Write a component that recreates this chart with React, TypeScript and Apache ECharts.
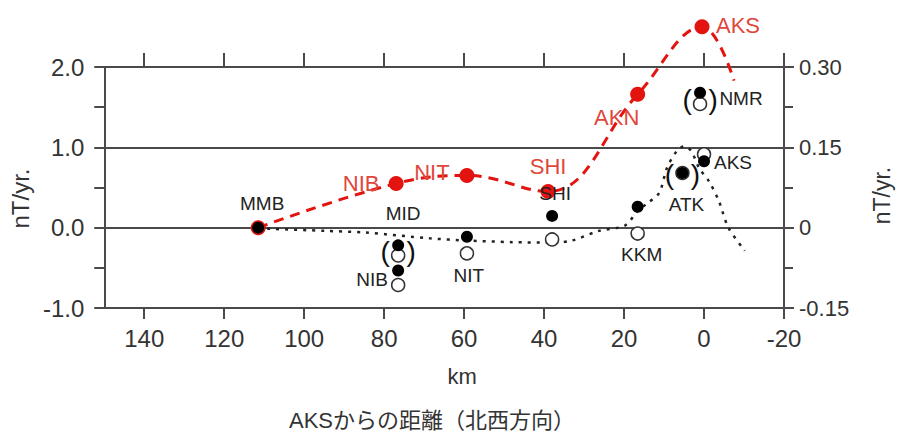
import React, { useEffect, useRef } from "react";
import * as echarts from "echarts";

// ---- data ----
// red series (left axis, nT/yr.)
const redStations = ["MMB", "NIB", "NIT", "SHI", "AKN", "AKS"];
const redKm = [111.5, 77, 59.3, 39, 16.6, 0.5];
const redVal = [0.0, 0.55, 0.65, 0.45, 1.66, 2.5];
const redTailKm = -7.5;
const redTailVal = 1.83;

// black filled / open circles (right axis)
const blkStations = ["MMB", "MID", "NIB", "NIT", "SHI", "KKM", "ATK", "AKS", "NMR"];
const blkKm = [111.5, 76.5, 76.5, 59.3, 38.0, 16.6, 5.4, 0.0, 1.0];
const filledVal = [0.0, -0.033, -0.08, -0.017, 0.022, 0.039, 0.102, 0.124, 0.252];
const openVal = [0.0, -0.052, -0.107, -0.048, -0.022, -0.011, 0.102, 0.137, 0.231];
const bracketed = ["MID", "ATK", "NMR"];

// dotted model curve (right axis)
const modelKm = [111.5, 108.5, 94.6, 84.9, 68.5, 59.3, 48, 38, 33, 26.3, 19.8, 16.6, 14.1, 11.2, 9.3, 6.8, 4.9, 3.2, 1.2, -1.2, -3.7, -6.1, -10.2];
const modelVal = [0, -0.002, -0.006, -0.009, -0.02, -0.024, -0.027, -0.028, -0.024, -0.006, 0.004, 0.031, 0.046, 0.065, 0.111, 0.143, 0.152, 0.143, 0.111, 0.087, 0.05, 0, -0.043];

// ticks
const xTicks = [140, 120, 100, 80, 60, 40, 20, 0, -20];

// ---- label layout (style, kept separately) ----
const redLabelOffset: Record<string, [number, number]> = {
  NIB: [-35, 0],
  NIT: [-35, -3],
  SHI: [0, -25],
  AKN: [-21, 23],
  AKS: [36, -1],
};
const filledLabelOffset: Record<string, [number, number]> = {
  MMB: [4, -24],
  MID: [5, -32],
  SHI: [3, -22],
  ATK: [4, 31],
  AKS: [29, 1],
  NMR: [41, 6],
};
const openLabelOffset: Record<string, [number, number]> = {
  NIB: [-26, -5],
  NIT: [2, 22],
  KKM: [4, 21],
};

const FONT = "'Liberation Sans', Arial, Helvetica, sans-serif";
const AXIS = "#4a4a4a";
const RED = "#e3140f";
const REDTXT = "#e0473c";

function labelFor(name: string, map: Record<string, [number, number]>, color: string, size: number) {
  const off = map[name];
  if (!off) return { show: false };
  return {
    show: true,
    position: "inside",
    offset: off,
    formatter: name,
    color,
    fontSize: size,
    fontFamily: FONT,
    textBorderWidth: 0,
  };
}

export default function App() {
  const ref = useRef<HTMLDivElement>(null);
  useEffect(() => {
    if (!ref.current) return;
    const chart = echarts.init(ref.current, undefined, { renderer: "svg" });

    const redPoints = redStations.map((s, i) => ({
      name: s,
      value: [redKm[i], redVal[i]],
      label: labelFor(s, redLabelOffset, REDTXT, 22),
    }));
    const redLine = redKm.map((k, i) => [k, redVal[i]]).concat([[redTailKm, redTailVal]]);
    const filledPts = blkStations.map((s, i) => ({
      name: s,
      value: [blkKm[i], filledVal[i]],
      label: labelFor(s, filledLabelOffset, "#222", 19),
    }));
    const openPts = blkStations
      .map((s, i) => ({
        name: s,
        value: [blkKm[i], openVal[i]],
        label: labelFor(s, openLabelOffset, "#222", 19),
      }))
      .filter((d) => d.name !== "MMB");
    const parenPts = bracketed.map((s) => {
      const i = blkStations.indexOf(s);
      return [blkKm[i], (filledVal[i] + openVal[i]) / 2];
    });
    const model = modelKm.map((k, i) => [k, modelVal[i]]);

    const xCommon = {
      type: "value",
      min: -20,
      max: 150,
      inverse: true,
      interval: 20,
      splitLine: { show: false },
      axisLine: { show: true, onZero: false, lineStyle: { color: AXIS, width: 2 } },
    };

    const parenSeries = (ch: string, dx: number) => ({
      type: "scatter",
      xAxisIndex: 0,
      yAxisIndex: 1,
      symbol: "circle",
      symbolSize: 1,
      itemStyle: { color: "rgba(0,0,0,0)", opacity: 1 },
      silent: true,
      clip: false,
      z: 8,
      label: {
        show: true,
        position: "inside",
        offset: [dx, 1],
        formatter: ch,
        fontSize: 28,
        fontFamily: FONT,
        color: "#111",
        opacity: 1,
        textBorderWidth: 0,
      },
      data: parenPts,
    });

    chart.setOption({
      animation: false,
      backgroundColor: "#ffffff",
      title: {
        text: "AKSからの距離（北西方向）",
        left: 284,
        top: 404,
        textStyle: {
          fontSize: 22,
          fontWeight: "normal",
          color: "#333",
          fontFamily: "'Liberation Sans', 'Noto Sans CJK JP', sans-serif",
        },
      },
      grid: { left: 93, right: 111, top: 67, bottom: 129 },
      xAxis: [
        {
          ...xCommon,
          position: "bottom",
          name: "km",
          nameLocation: "middle",
          nameGap: 57,
          nameTextStyle: { fontSize: 22, color: "#333", fontFamily: FONT, padding: [0, 0, 0, 36] },
          axisTick: { show: true, inside: false, length: 11, customValues: xTicks, lineStyle: { color: AXIS, width: 2 } },
          axisLabel: { show: true, customValues: xTicks, fontSize: 24, color: "#333", fontFamily: FONT, margin: 18 },
        },
        {
          ...xCommon,
          position: "top",
          axisTick: { show: true, inside: false, length: 14, customValues: xTicks, lineStyle: { color: AXIS, width: 2 } },
          axisLabel: { show: false },
        },
      ],
      yAxis: [
        {
          type: "value",
          position: "left",
          min: -1,
          max: 2,
          interval: 1,
          name: "nT/yr.",
          nameLocation: "middle",
          nameRotate: 90,
          nameGap: 54,
          nameTextStyle: { fontSize: 24, color: "#333", fontFamily: FONT, padding: [0, 22, 0, 0] },
          axisLine: { show: true, onZero: false, lineStyle: { color: AXIS, width: 2 } },
          axisTick: { show: true, inside: false, length: 10, lineStyle: { color: AXIS, width: 2 } },
          minorTick: { show: true, splitNumber: 2, length: 10, lineStyle: { color: AXIS, width: 2 } },
          splitLine: { show: true, lineStyle: { color: AXIS, width: 2 } },
          axisLabel: {
            fontSize: 24,
            color: "#333",
            fontFamily: FONT,
            margin: 20,
            formatter: (v: number) => v.toFixed(1),
          },
        },
        {
          type: "value",
          position: "right",
          min: -0.15,
          max: 0.3,
          interval: 0.15,
          name: "nT/yr.",
          nameLocation: "middle",
          nameRotate: 90,
          nameGap: 86,
          nameTextStyle: { fontSize: 23, color: "#333", fontFamily: FONT, padding: [0, 16, 0, 0] },
          axisLine: { show: true, onZero: false, lineStyle: { color: AXIS, width: 2 } },
          axisTick: { show: true, inside: false, length: 10, lineStyle: { color: AXIS, width: 2 } },
          minorTick: { show: true, splitNumber: 2, length: 9, lineStyle: { color: AXIS, width: 2 } },
          splitLine: { show: false },
          axisLabel: {
            fontSize: 22,
            color: "#333",
            fontFamily: FONT,
            margin: 15,
            formatter: (v: number) => (Math.abs(v) < 1e-9 ? "0" : v.toFixed(2)),
          },
        },
      ],
      series: [
        {
          type: "line",
          xAxisIndex: 0,
          yAxisIndex: 1,
          data: model,
          showSymbol: false,
          smooth: 0.3,
          clip: false,
          z: 2,
          lineStyle: { color: "#222", width: 2.5, type: [3, 6] },
        },
        {
          type: "line",
          xAxisIndex: 0,
          yAxisIndex: 0,
          data: redLine,
          showSymbol: false,
          smooth: 0.4,
          clip: false,
          z: 3,
          lineStyle: { color: RED, width: 3, type: [10, 7] },
        },
        {
          type: "scatter",
          xAxisIndex: 0,
          yAxisIndex: 0,
          symbol: "circle",
          symbolSize: 15,
          itemStyle: { color: RED, opacity: 1 },
          clip: false,
          z: 5,
          data: redPoints,
        },
        {
          type: "scatter",
          xAxisIndex: 0,
          yAxisIndex: 1,
          symbol: "circle",
          symbolSize: 13,
          itemStyle: { color: "#ffffff", borderColor: "#333", borderWidth: 1.5, opacity: 1 },
          clip: false,
          z: 6,
          data: openPts,
        },
        {
          type: "scatter",
          xAxisIndex: 0,
          yAxisIndex: 1,
          symbol: "circle",
          symbolSize: 12,
          itemStyle: { color: "#000", opacity: 1 },
          clip: false,
          z: 7,
          data: filledPts,
        },
        parenSeries("(", -13),
        parenSeries(")", 13),
      ],
    });
    return () => chart.dispose();
  }, []);

  return (
    <div
      ref={ref}
      style={{ position: "fixed", left: 0, top: 0, width: 901, height: 437, background: "#fff" }}
    />
  );
}
